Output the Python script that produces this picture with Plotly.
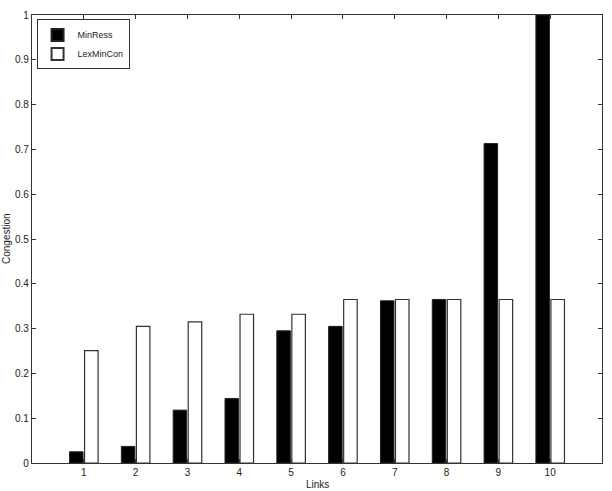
import plotly.graph_objects as go

links = [1, 2, 3, 4, 5, 6, 7, 8, 9, 10]
minress = [0.025, 0.037, 0.118, 0.144, 0.295, 0.305, 0.362, 0.365, 0.713, 1.0]
lexmincon = [0.251, 0.305, 0.315, 0.332, 0.332, 0.365, 0.365, 0.365, 0.365, 0.365]
yticks = [0, 0.1, 0.2, 0.3, 0.4, 0.5, 0.6, 0.7, 0.8, 0.9, 1]
yticklabels = ["0", "0.1", "0.2", "0.3", "0.4", "0.5", "0.6", "0.7", "0.8", "0.9", "1"]

fig = go.Figure()
fig.add_trace(go.Bar(x=links, y=minress, name="MinRess",
                     marker=dict(color="black", line=dict(color="#222", width=1))))
fig.add_trace(go.Bar(x=links, y=lexmincon, name="LexMinCon",
                     marker=dict(color="white", line=dict(color="#333", width=1.2))))

axis_common = dict(showline=True, linecolor="#333", linewidth=1.2, mirror="ticks",
                   ticks="inside", ticklen=4, tickcolor="#333", showgrid=False,
                   zeroline=False, tickfont=dict(family="Liberation Sans, Arial", size=10, color="#222"))

fig.update_layout(
    width=612, height=491,
    margin=dict(l=32, r=9, t=13, b=28),
    paper_bgcolor="white", plot_bgcolor="white",
    barmode="group", bargap=0.42, bargroupgap=0.1,
    showlegend=True,
    legend=dict(x=0.008, y=0.99, xanchor="left", yanchor="top",
                bordercolor="#333", borderwidth=1, bgcolor="white",
                font=dict(family="Liberation Sans, Arial", size=9, color="#222"),
                tracegroupgap=0, itemwidth=30, itemsizing="constant"),
    xaxis=dict(range=[0, 11], tickvals=links, ticktext=[str(v) for v in links], **axis_common),
    yaxis=dict(range=[0, 1], tickvals=yticks, ticktext=yticklabels, **axis_common),
    annotations=[
        dict(text="Links", xref="paper", yref="paper", x=0.5, y=0, yshift=-21,
             xanchor="center", yanchor="middle", showarrow=False,
             font=dict(family="Liberation Sans, Arial", size=10, color="#222")),
        dict(text="Congestion", xref="paper", yref="paper", x=0, xshift=-26, y=0.5,
             textangle=-90, xanchor="center", yanchor="middle", showarrow=False,
             font=dict(family="Liberation Sans, Arial", size=10, color="#222")),
    ],
)

fig.write_html("out.html")
